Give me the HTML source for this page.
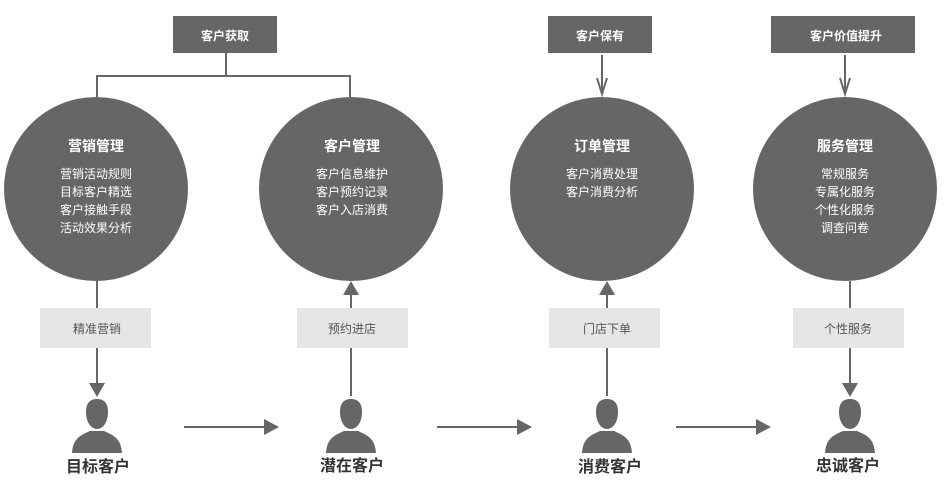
<!DOCTYPE html>
<html><head><meta charset="utf-8"><style>
body{margin:0;background:#fff;}
text{font-family:"Liberation Sans","Noto Sans CJK SC",sans-serif;}
</style></head><body>
<svg width="944" height="487" viewBox="0 0 944 487" xmlns="http://www.w3.org/2000/svg">
<defs>
<g id="p">
<path d="M-11 -14 C-11 -24 -6 -27 0 -27 C6 -27 11 -24 11 -14 C11 -4 6 3 0 3 C-6 3 -11 -4 -11 -14 Z" fill="#666"/>
<path d="M-25 27 C-24 12 -16 9 -7 5 L7 5 C16 9 24 12 25 27 Z" fill="#666"/>
</g>
</defs>
<g fill="#666">
<rect x="173" y="16" width="104" height="37"/>
<rect x="548" y="16" width="104" height="37"/>
<rect x="771" y="16" width="144" height="37"/>
<circle cx="96" cy="189" r="92"/>
<circle cx="351" cy="189" r="92"/>
<circle cx="602" cy="189" r="92"/>
<circle cx="845" cy="189" r="92"/>
</g>
<g fill="#e6e6e6">
<rect x="40" y="308" width="111" height="40"/>
<rect x="297" y="308" width="111" height="40"/>
<rect x="549" y="308" width="111" height="40"/>
<rect x="793" y="308" width="111" height="40"/>
</g>
<g stroke="#666" stroke-width="2" fill="none">
<path d="M226 53 V76 M97 76 H350 M97 75 V97 M350 75 V97"/>
<path d="M602 55 V93 M597 78 L602 94 L607 78"/>
<path d="M845 55 V93 M840 78 L845 94 L850 78"/>
<path d="M97 281 V308 M97 348 V384"/>
<path d="M351 292 V308 M351 348 V396"/>
<path d="M607 292 V308 M607 348 V396"/>
<path d="M850 281 V308 M850 348 V384"/>
<path d="M184 427 H264 M437 427 H517 M676 427 H756"/>
</g>
<g fill="#666">
<polygon points="89,383 105,383 97,397"/>
<polygon points="842,383 858,383 850,397"/>
<polygon points="343,295 359,295 351,281"/>
<polygon points="599,295 615,295 607,281"/>
<polygon points="264,419 264,435 279,427"/>
<polygon points="517,419 517,435 532,427"/>
<polygon points="756,419 756,435 771,427"/>
</g>
<use href="#p" x="97" y="426"/>
<use href="#p" x="351" y="426"/>
<use href="#p" x="607" y="426"/>
<use href="#p" x="850" y="426"/>
<g fill="#fff" font-weight="bold" font-size="12" text-anchor="middle">
<text x="225" y="40">客户获取</text>
<text x="600" y="40">客户保有</text>
<text x="846" y="40">客户价值提升</text>
</g>
<g fill="#fff" font-weight="bold" font-size="14" text-anchor="middle">
<text x="96" y="151">营销管理</text>
<text x="352" y="151">客户管理</text>
<text x="602" y="151">订单管理</text>
<text x="845" y="151">服务管理</text>
</g>
<g fill="#fff" font-size="12" text-anchor="middle">
<text x="96" y="178">营销活动规则</text><text x="96" y="196">目标客户精选</text><text x="96" y="214">客户接触手段</text><text x="96" y="232">活动效果分析</text>
<text x="352" y="178">客户信息维护</text><text x="352" y="196">客户预约记录</text><text x="352" y="214">客户入店消费</text>
<text x="602" y="178">客户消费处理</text><text x="602" y="196">客户消费分析</text>
<text x="845" y="178">常规服务</text><text x="845" y="196">专属化服务</text><text x="845" y="214">个性化服务</text><text x="845" y="232">调查问卷</text>
</g>
<g fill="#555" font-size="12" text-anchor="middle">
<text x="97" y="333">精准营销</text>
<text x="352" y="333">预约进店</text>
<text x="607" y="333">门店下单</text>
<text x="848" y="333">个性服务</text>
</g>
<g fill="#333" font-weight="bold" font-size="16" text-anchor="middle">
<text x="98" y="472">目标客户</text>
<text x="352" y="471">潜在客户</text>
<text x="610" y="472">消费客户</text>
<text x="848" y="471">忠诚客户</text>
</g>
</svg>
</body></html>
